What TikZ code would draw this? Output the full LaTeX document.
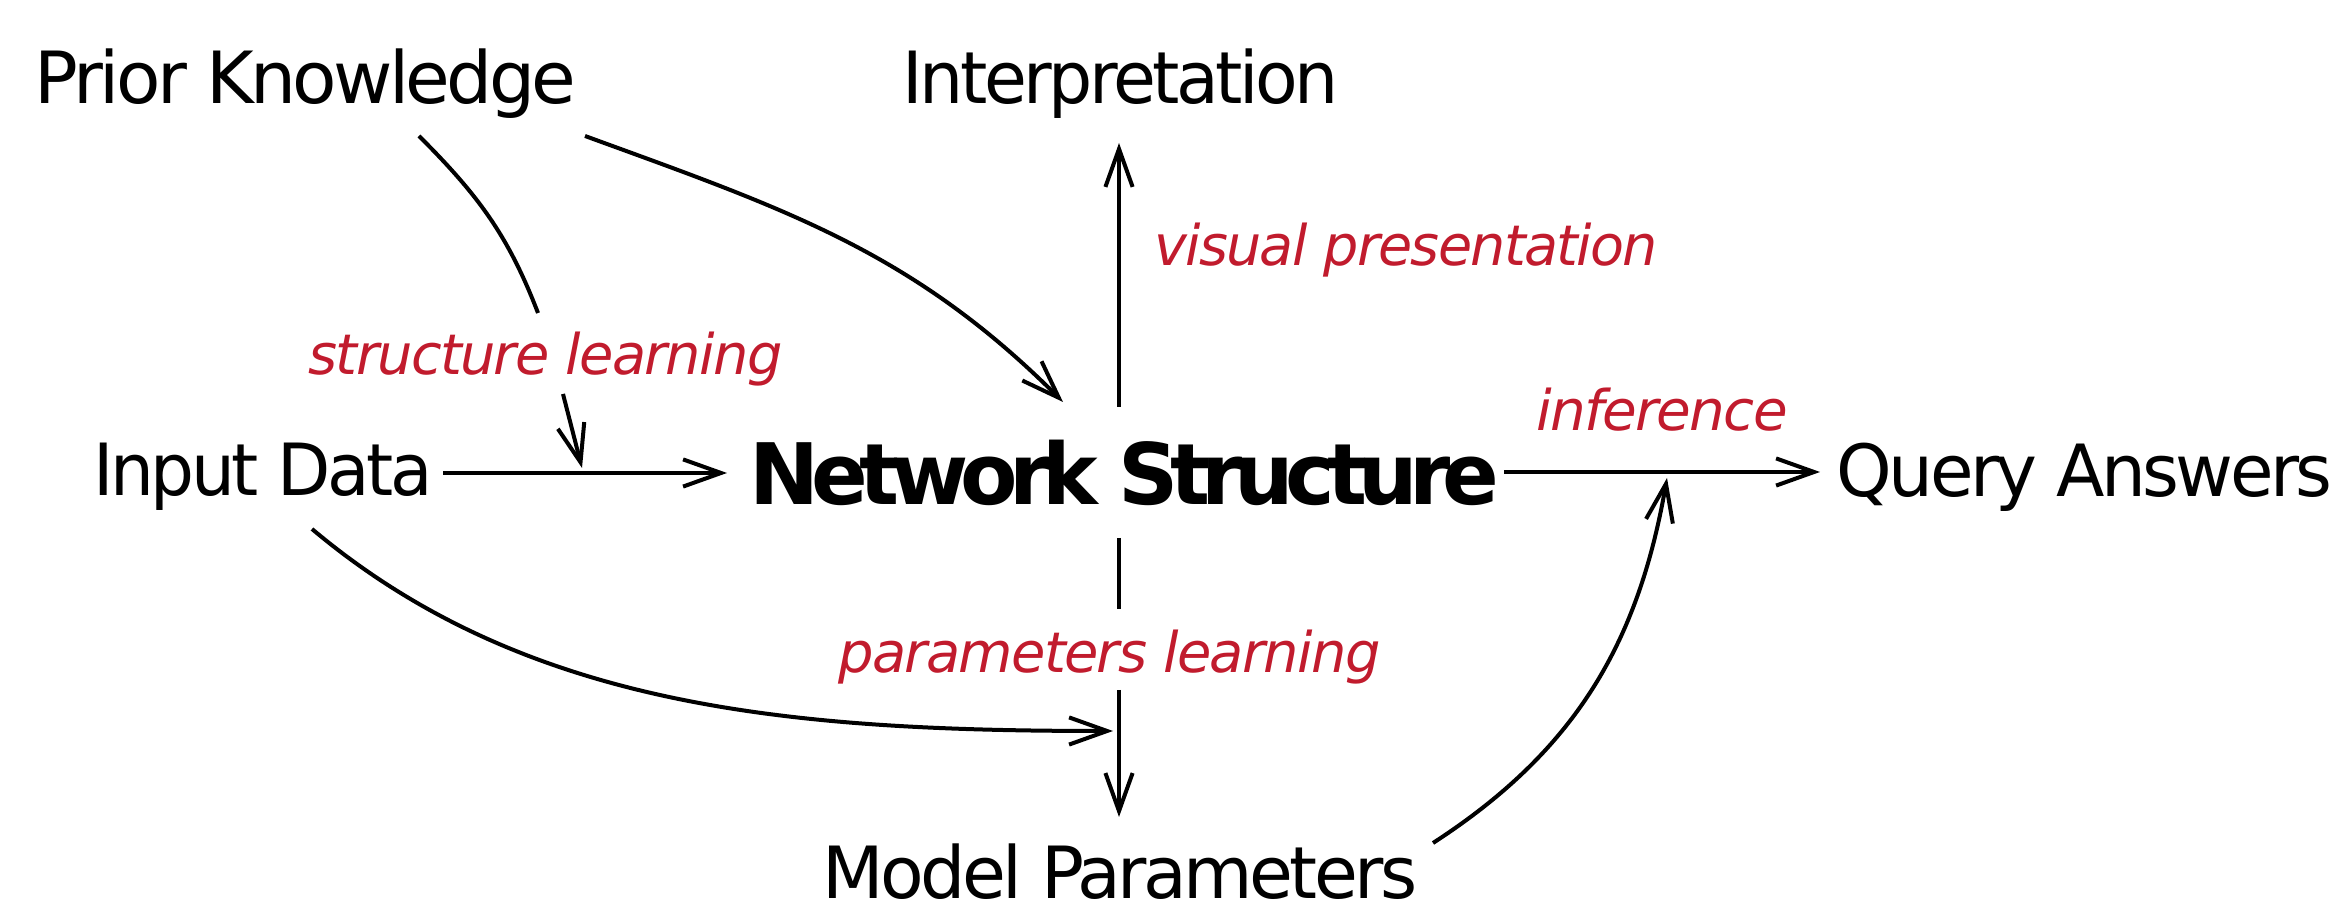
\documentclass[tikz,border=0pt]{standalone}
\usepackage{fontspec}
\setmainfont{DejaVu Sans}[LetterSpace=-5]
\newfontfamily\hubfont{DejaVu Sans Bold}[LetterSpace=-10]
\newfontfamily\notefont{DejaVu Sans Oblique}[LetterSpace=-3]
\usetikzlibrary{arrows.meta}
\definecolor{labelred}{RGB}{193,27,45}
% squeeze a text box to a given width, keeping its height
\newcommand{\fitto}[2]{\resizebox{#1}{\height}{#2}}

\tikzset{
  term/.style={inner sep=0pt, anchor=base, font=\fontsize{18pt}{20pt}\selectfont},
  hub/.style={inner sep=0pt, anchor=base, font=\fontsize{21.2pt}{24pt}\hubfont},
  steplabel/.style={inner sep=0pt, anchor=base, text=labelred, font=\fontsize{14pt}{16pt}\notefont},
  link/.style={line width=1pt},
  flow/.style={link, -{Straight Barb[length=9.5pt,width=6.8pt]}},
}

\begin{document}
\begin{tikzpicture}[x=0.25pt, y=-0.25pt]
\useasboundingbox (0,0) rectangle (2343,905);

% main terms
\node[term] (prior)  at (305.5,104) {\fitto{135.5pt}{Prior Knowledge}};
\node[term] (interp) at (1120.5,104) {\fitto{109pt}{Interpretation}};
\node[term] (input)  at (263,496)   {\fitto{84.75pt}{Input Data}};
\node[hub]  (net)    at (1124.5,505) {\fitto{187.5pt}{Network Structure}};
\node[term] (query)  at (2084.5,497) {\fitto{124pt}{Query Answers}};
\node[term] (model)  at (1120,899)  {\fitto{148.75pt}{Model Parameters}};

% process labels
\node[steplabel] (slearn) at (545.5,375) {\fitto{118.5pt}{structure learning}};
\node[steplabel] (visual) at (1406,266)  {\fitto{126pt}{visual presentation}};
\node[steplabel] (infer)  at (1662,431)  {\fitto{62.9pt}{inference}};
\node[steplabel] (plearn) at (1109.5,673) {\fitto{135.5pt}{parameters learning}};

% connector end points
\coordinate (pk-a)   at (419,136);
\coordinate (pk-b)   at (585,136);
\coordinate (sl-in)  at (538,313);
\coordinate (sl-out) at (563,394);
\coordinate (id-hit) at (582,468);
\coordinate (id-out) at (443,473);
\coordinate (ns-in)  at (727,473);
\coordinate (ns-hit) at (1063,402);
\coordinate (ns-top) at (1119,407);
\coordinate (ip-in)  at (1119,143);
\coordinate (ns-rt)  at (1504,472);
\coordinate (qa-in)  at (1820,472);
\coordinate (ns-bot) at (1119,538);
\coordinate (pl-in)  at (1119,609);
\coordinate (pl-out) at (1119,690);
\coordinate (mp-in)  at (1119,817);
\coordinate (id-b)   at (312,529);
\coordinate (pl-hit) at (1113,731);
\coordinate (mp-out) at (1433,843);
\coordinate (if-hit) at (1667,478);

% straight flows
\draw[flow] (id-out) -- (ns-in);
\draw[flow] (ns-rt) -- (qa-in);
\draw[flow] (ns-top) -- (ip-in);
\draw[link] (ns-bot) -- (pl-in);
\draw[flow] (pl-out) -- (mp-in);

% structure learning: prior knowledge onto the data flow
\draw[link] (pk-a) .. controls (478,195) and (508,235) .. (sl-in);
\draw[flow] (sl-out) -- (id-hit);

% prior knowledge straight into the structure
\draw[flow] (pk-b) .. controls (785,209) and (912,251) .. (ns-hit);

% data into parameters learning
\draw[flow] (id-b) .. controls (526,709) and (792,731) .. (pl-hit);

% parameters into inference
\draw[flow] (mp-out) .. controls (1575,751) and (1638,644) .. (if-hit);
\end{tikzpicture}
\end{document}
